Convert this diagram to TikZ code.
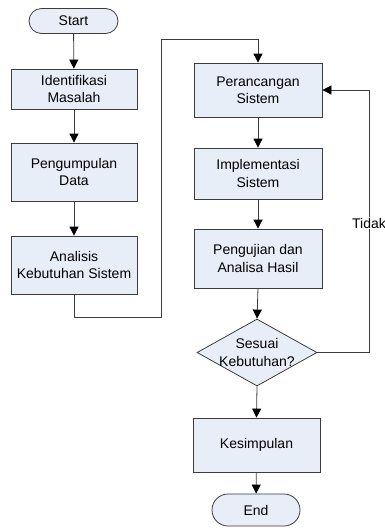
\documentclass[tikz,border=0pt]{standalone}
\usepackage{fontspec}
\setmainfont{Liberation Sans}
\usetikzlibrary{shapes.geometric,shapes.misc,arrows.meta}
\definecolor{boxfill}{RGB}{232,238,248}
\definecolor{boxline}{RGB}{60,60,60}
\begin{document}
\begin{tikzpicture}[x=1pt,y=-1pt,
  every node/.style={font=\fontsize{14}{17.5}\selectfont, text=black},
  procbox/.style={draw=boxline, fill=boxfill, line width=0.8pt, rectangle, align=center, inner sep=0pt},
  termbox/.style={draw=boxline, fill=boxfill, line width=0.8pt, rounded rectangle, align=center, inner sep=0pt},
  decbox/.style={draw=boxline, fill=boxfill, line width=0.8pt, diamond, inner sep=0pt},
  arr/.style={draw=boxline, line width=0.8pt, -{Triangle[length=9pt,width=9pt,color=black]}}]
\useasboundingbox (0,0) rectangle (385,528);
% left column
\node[termbox, minimum width=89pt, minimum height=25pt] (start) at (73.5,21) {Start};
\node[procbox, minimum width=126pt, minimum height=40pt] (ide) at (74,89) {Identifikasi\\Masalah};
\node[procbox, minimum width=126pt, minimum height=58pt] (pen) at (74,172) {Pengumpulan\\Data};
\node[procbox, minimum width=126pt, minimum height=58pt] (ana) at (74,265) {Analisis\\Kebutuhan Sistem};
% right column
\node[procbox, minimum width=128pt, minimum height=54pt] (per) at (258,90) {Perancangan\\Sistem};
\node[procbox, minimum width=128pt, minimum height=51pt] (imp) at (258,173.5) {Implementasi\\Sistem};
\node[procbox, minimum width=128pt, minimum height=59pt] (uji) at (258,258.5) {Pengujian dan\\Analisa Hasil};
\node[decbox, minimum width=120pt, minimum height=67pt] (dia) at (257,352.5) {};
\node[align=center, inner sep=0pt] (dial) at (dia.center) {Sesuai\\Kebutuhan?};
\node[procbox, minimum width=127pt, minimum height=54pt] (kes) at (256.5,445) {Kesimpulan};
\node[termbox, minimum width=88pt, minimum height=32pt] (end) at (256,510) {End};
% connectors
\draw[arr] (start) -- (ide);
\draw[arr] (ide) -- (pen);
\draw[arr] (pen) -- (ana);
\coordinate (k1) at (161,317);
\coordinate (k2) at (161,39);
\draw[arr] (ana.south) |- (k1) -- (k2) -| (per.north);
\draw[arr] (per) -- (imp);
\draw[arr] (imp) -- (uji);
\draw[arr] (uji.south) -- (dia.north);
\draw[arr] (dia.south) -- (kes.north);
\draw[arr] (kes) -- (end);
\coordinate (lp) at (369,90);
\draw[arr] (dia.east) -| (lp) -- (per.east);
\node[fill=white, inner sep=1pt] (tidak) at (369,223) {Tidak};
\end{tikzpicture}
\end{document}
